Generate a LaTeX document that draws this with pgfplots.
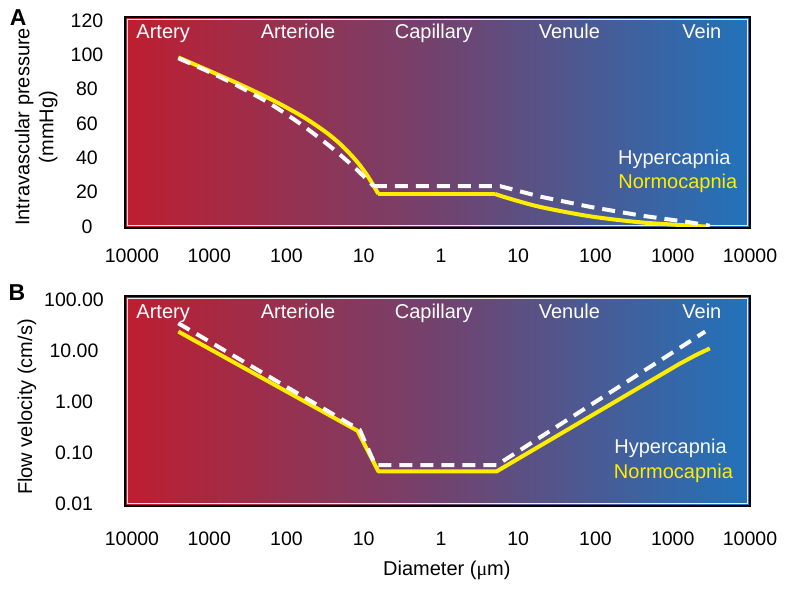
\documentclass[border=0pt]{standalone}
\usepackage{fontspec}
\setmainfont{Liberation Sans}
\newfontfamily\mufont{Liberation Serif}
\usepackage{pgfplots}
\pgfplotsset{compat=1.18}

\definecolor{artred}{RGB}{190,30,48}
\definecolor{capmid}{RGB}{114,66,110}
\definecolor{veinblue}{RGB}{33,115,187}
\definecolor{normo}{RGB}{255,237,0}
\definecolor{hyper}{RGB}{250,250,250}

\newcommand{\lbl}{\fontsize{20}{24}\selectfont}

\pgfplotsset{
  panel/.style={
    scale only axis, width=625pt, clip=false, axis on top,
    xmin=-0.09, xmax=8, xtick={0,...,8},
    xticklabels={10000,1000,100,10,1,10,100,1000,10000},
    major tick length=0pt, minor tick length=0pt,
    axis line style={black, line width=2.5pt},
    tick label style={font=\fontsize{19.5}{23}\selectfont},
    /pgf/number format/assume math mode=true,
  },
  normline/.style={normo, line width=4pt, line join=round},
  hypline/.style={hyper, line width=4pt, dash pattern=on 13pt off 8pt},
}

\begin{document}
\begin{tikzpicture}
\useasboundingbox (0,0) rectangle (788pt,591pt);

% A: pressure
\begin{axis}[panel, at={(125pt,363pt)}, anchor=south west, height=211pt,
    ymin=-0.8, ymax=122, ytick={0,20,...,120},
    xticklabel style={anchor=center, yshift=-28pt},
    yticklabel style={anchor=center, xshift=-38pt}]
  \fill[left color=artred, right color=veinblue, middle color=capmid]
    (rel axis cs:0,0) rectangle (rel axis cs:1,1);
  \draw[white!85!gray, line width=1.5pt]
    ([shift={(2.5pt,2.5pt)}]rel axis cs:0,0) rectangle ([shift={(-2.5pt,-2.5pt)}]rel axis cs:1,1);

  % normocapnia
  \addplot[normline, smooth] coordinates {
    (0.60,98.5) (1.00,90.7) (1.40,82.7) (1.80,74.1) (2.20,64.3) (2.50,55.3)
    (2.70,47.9) (2.90,38.5) (3.05,29.5) (3.19,19)};
  \addplot[normline] coordinates {(3.19,19) (4.70,19)};
  \addplot[normline, smooth] coordinates {
    (4.70,19) (4.85,16.8) (5.28,11.5) (5.93,6) (6.58,2.5) (7.22,0.6) (7.45,0)};
  % hypercapnia
  \addplot[hypline, smooth] coordinates {
    (0.60,98) (1.00,90) (1.40,81.2) (1.80,71.2) (2.20,59.2) (2.50,49)
    (2.70,41.6) (2.90,33.6) (3.13,23.5)};
  \addplot[hypline] coordinates {
    (3.13,23.5) (4.77,23.5) (5.28,17.5) (5.93,11.5) (6.58,6.5) (7.22,2.5) (7.48,0.5)};

  \node[font=\bfseries\fontsize{23}{27}\selectfont] at (axis description cs:-0.171,0.995) {A};
  \node[rotate=90, align=center, font=\lbl] at (axis description cs:-0.142,0.479)
    {Intravascular pressure\\(mmHg)};
  \node[white, font=\lbl, anchor=base] at (axis description cs:0.061,0.900) {Artery};
  \node[white, font=\lbl, anchor=base] at (axis description cs:0.277,0.900) {Arteriole};
  \node[white, font=\lbl, anchor=base] at (axis description cs:0.494,0.900) {Capillary};
  \node[white, font=\lbl, anchor=base] at (axis description cs:0.711,0.900) {Venule};
  \node[white, font=\lbl, anchor=base] at (axis description cs:0.923,0.900) {Vein};
  \node[hyper, font=\lbl, anchor=base east, inner sep=0pt] at (axis description cs:0.969,0.303) {Hypercapnia};
  \node[normo, font=\lbl, anchor=base east, inner sep=0pt] at (axis description cs:0.980,0.188) {Normocapnia};
\end{axis}

% B: velocity
\begin{axis}[panel, at={(125pt,85pt)}, anchor=south west, height=210pt,
    ymode=log, ymin=0.009, ymax=120,
    ytick={0.01,0.1,1,10,100},
    yticklabels={0.01,0.10,1.00,10.00,100.00},
    xticklabel style={anchor=center, yshift=-33pt},
    yticklabel style={anchor=center, xshift=-51pt}]
  \fill[left color=artred, right color=veinblue, middle color=capmid]
    (rel axis cs:0,0) rectangle (rel axis cs:1,1);
  \draw[white!85!gray, line width=1.5pt]
    ([shift={(2.5pt,2.5pt)}]rel axis cs:0,0) rectangle ([shift={(-2.5pt,-2.5pt)}]rel axis cs:1,1);

  % normocapnia
  \addplot[normline] coordinates {
    (0.60,24) (2.92,0.27) (3.19,0.043) (4.72,0.043) (7.09,5.6) (7.30,8.3) (7.48,11.2)};
  % hypercapnia
  \addplot[hypline] coordinates {
    (0.60,35) (2.95,0.28) (3.15,0.057) (4.72,0.057) (7.42,24)};

  \node[font=\bfseries\fontsize{23}{27}\selectfont] at (axis description cs:-0.173,1.014) {B};
  \node[rotate=90, font=\lbl] at (axis description cs:-0.157,0.471) {Flow velocity (cm/s)};
  \node[font=\lbl] at (axis description cs:0.515,-0.305) {Diameter ({\mufont μ}m)};
  \node[white, font=\lbl, anchor=base] at (axis description cs:0.061,0.895) {Artery};
  \node[white, font=\lbl, anchor=base] at (axis description cs:0.277,0.895) {Arteriole};
  \node[white, font=\lbl, anchor=base] at (axis description cs:0.494,0.895) {Capillary};
  \node[white, font=\lbl, anchor=base] at (axis description cs:0.711,0.895) {Venule};
  \node[white, font=\lbl, anchor=base] at (axis description cs:0.923,0.895) {Vein};
  \node[hyper, font=\lbl, anchor=base east, inner sep=0pt] at (axis description cs:0.963,0.251) {Hypercapnia};
  \node[normo, font=\lbl, anchor=base east, inner sep=0pt] at (axis description cs:0.973,0.132) {Normocapnia};
\end{axis}
\end{tikzpicture}
\end{document}
